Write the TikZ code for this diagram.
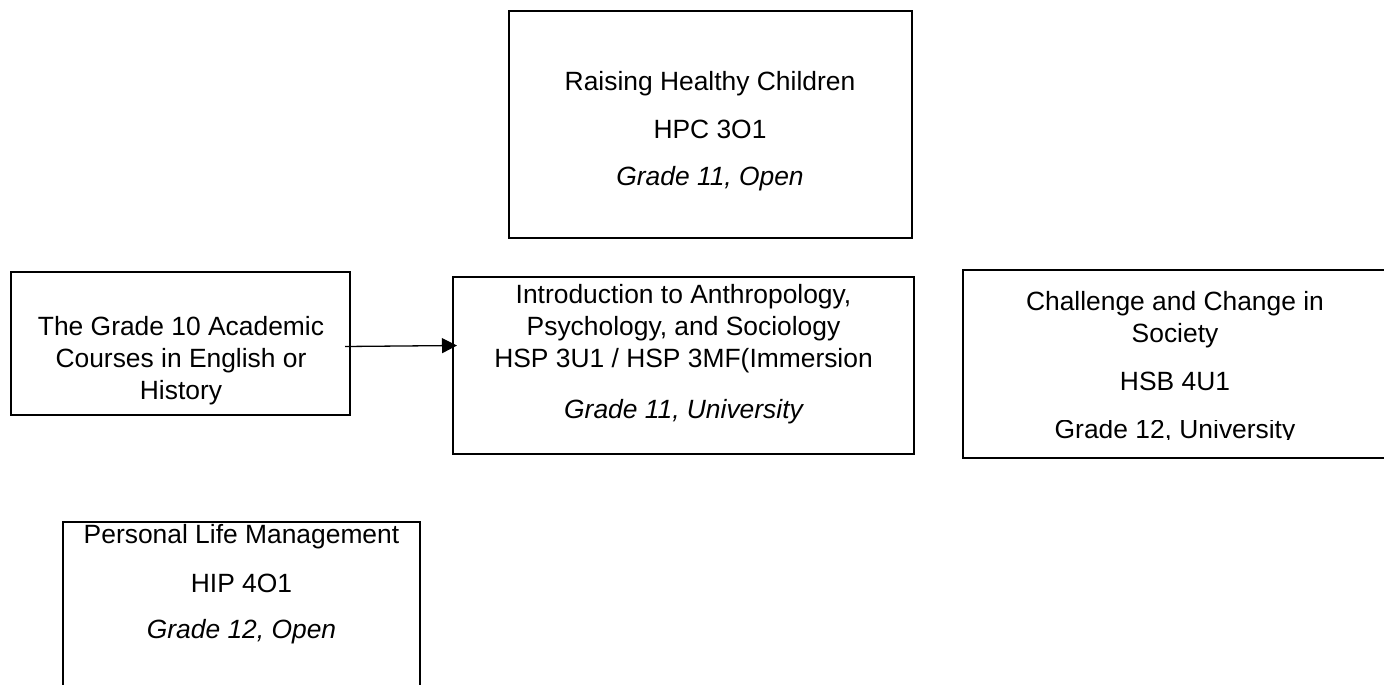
\documentclass[tikz,border=0pt]{standalone}
\usepackage{fontspec}
\setmainfont{Liberation Sans}
\usetikzlibrary{arrows.meta,calc}
\begin{document}
\begin{tikzpicture}[x=1pt,y=-1pt,
  course/.style={draw=black,line width=2pt,rectangle,inner sep=0pt,outer sep=0pt},
  txt/.style={anchor=base,inner sep=0pt,font=\fontsize{26.4pt}{30pt}\selectfont},
  grade/.style={anchor=base,inner sep=0pt,font=\fontsize{26.4pt}{30pt}\selectfont\itshape},
  link/.style={line width=1.3pt,-{Triangle[length=15pt,width=15pt]}}]
\clip (0,0) rectangle (1384,685);
\fill[white] (0,0) rectangle (1384,685);

% course boxes
\node[course,minimum width=403pt,minimum height=227pt] (hpc) at (710.5,124.5) {};
\node[course,minimum width=339pt,minimum height=143pt] (g10) at (180.5,343.5) {};
\node[course,minimum width=461pt,minimum height=177pt] (intro) at (683.5,365.5) {};
\node[course,minimum width=425pt,minimum height=188pt] (hsb) at (1175.5,364) {};
\node[course,minimum width=357pt,minimum height=178pt] (hip) at (241.5,611) {};

% Raising Healthy Children
\node[txt] (hpcA) at (710,91) {Raising Healthy Children};
\node[txt] (hpcB) at (710,138) {HPC 3O1};
\node[grade] (hpcC) at (710,185) {Grade 11, Open};

% prerequisite
\node[txt] (g10A) at (181,335) {The Grade 10 Academic};
\node[txt] (g10B) at (181,367) {Courses in English or};
\node[txt] (g10C) at (181,399) {History};

% Introduction to Anthropology, Psychology, and Sociology
\node[txt] (introA) at (683.5,303) {Introduction to Anthropology,};
\node[txt] (introB) at (683.5,335) {Psychology, and Sociology};
\node[txt] (introC) at (683.5,367) {HSP 3U1 / HSP 3MF(Immersion};
\node[grade] (introD) at (683.5,418) {Grade 11, University};

% Challenge and Change in Society
\node[txt] (hsbA) at (1175,310) {Challenge and Change in};
\node[txt] (hsbB) at (1175,342) {Society};
\node[txt] (hsbC) at (1175,390) {HSB 4U1};
\begin{scope}
  \clip (963,420) rectangle (1384,439.5);
  \node[txt] (hsbD) at (1175,438) {Grade 12, University};
\end{scope}

% Personal Life Management
\node[txt] (hipA) at (241.5,543) {Personal Life Management};
\node[txt] (hipB) at (241.5,592) {HIP 4O1};
\node[grade] (hipC) at (241.5,638) {Grade 12, Open};

% connector
\draw[link] ($(g10.east)+(-5,3)$) -- ($(intro.west |- g10.east)+(4,2)$);
\end{tikzpicture}
\end{document}
